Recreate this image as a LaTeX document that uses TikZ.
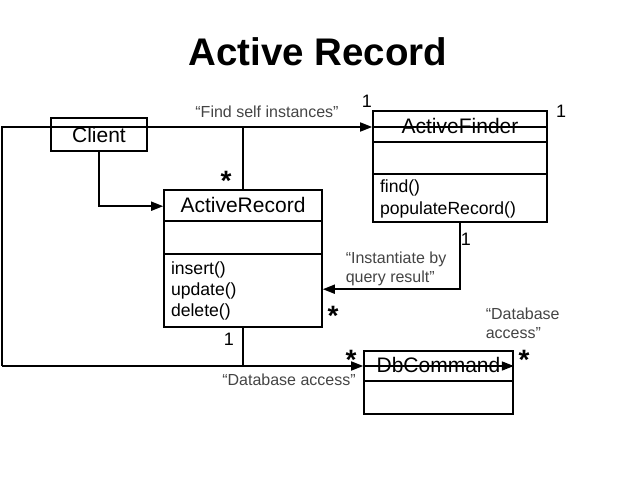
\documentclass[tikz,border=0pt]{standalone}
\usepackage{fontspec}
\setmainfont{Liberation Sans}
\usetikzlibrary{arrows.meta}
\definecolor{labgray}{RGB}{68,68,68}
\begin{document}
\begin{tikzpicture}[x=1pt,y=-1pt,line width=1.6pt,
  cls/.style={draw,rectangle,inner sep=0pt,line width=1.6pt},
  nm/.style={font=\fontsize{21}{25}\selectfont,inner sep=0pt},
  meth/.style={font=\fontsize{17.6}{21}\selectfont,inner sep=0pt,anchor=west},
  lbl/.style={font=\fontsize{16}{19.5}\selectfont,text=labgray,inner sep=0pt,align=left},
  mult/.style={font=\fontsize{18}{20}\selectfont,inner sep=0pt},
  star/.style={font=\bfseries\fontsize{28}{28}\selectfont,inner sep=0pt},
  arr/.style={-{Triangle[length=12pt,width=9pt]}}]
\useasboundingbox (0,0) rectangle (640,480);
\node[font=\bfseries\fontsize{38.5}{42}\selectfont,inner sep=0pt] (title) at (318,52) {Active Record};

% classes
\node[cls,minimum width=96pt,minimum height=33pt] (client) at (99,134.5) {};
\node[nm] (clientname) at (client.center) {Client};

\node[cls,minimum width=174pt,minimum height=111pt] (af) at (460,166.5) {};
\draw ([yshift=-32pt]af.north west) -- ([yshift=-32pt]af.north east);
\draw ([yshift=-64pt]af.north west) -- ([yshift=-64pt]af.north east);
\node[nm] (afname) at ([yshift=-16pt]af.north) {ActiveFinder};
\node[meth] (afm1) at ([xshift=7pt,yshift=-78pt]af.north west) {find()};
\node[meth] (afm2) at ([xshift=7pt,yshift=-100pt]af.north west) {populateRecord()};

\node[cls,minimum width=158pt,minimum height=137pt] (ar) at (243,258.5) {};
\draw ([yshift=-32pt]ar.north west) -- ([yshift=-32pt]ar.north east);
\draw ([yshift=-65pt]ar.north west) -- ([yshift=-65pt]ar.north east);
\node[nm] (arname) at ([yshift=-16pt]ar.north) {ActiveRecord};
\node[meth] (arm1) at ([xshift=7pt,yshift=-81pt]ar.north west) {insert()};
\node[meth] (arm2) at ([xshift=7pt,yshift=-102pt]ar.north west) {update()};
\node[meth] (arm3) at ([xshift=7pt,yshift=-123pt]ar.north west) {delete()};

\node[cls,minimum width=149pt,minimum height=63pt] (db) at (438.5,382.5) {};
\draw ([yshift=-31pt]db.north west) -- ([yshift=-31pt]db.north east);
\node[nm] (dbname) at ([yshift=-15pt]db.north) {DbCommand};

% connectors
\coordinate (lt) at (2,127);
\coordinate (lb) at (2,366);
\draw[arr] (lb) -- (lt) -- (af.west |- lt);
\draw (af.west |- lt) -- (af.east |- lt);
\draw[arr] (lb) -- (db.west |- lb);
\draw[arr] (db.west |- lb) -- (db.east |- lb);
\draw (ar.north) -- (ar.north |- lt);
\draw (ar.south) -- (ar.south |- lb);
\draw[arr] (client.south) |- ([yshift=-17pt]ar.north west);
\draw[arr] (af.south) |- ([yshift=-100pt]ar.north east);

% labels
\node[lbl] (l1) at (267,112) {“Find self instances”};
\node[lbl,anchor=west] (l2) at (345,269) {“Instantiate by\\query result”};
\node[lbl] (l3) at (289,380) {“Database access”};
\node[lbl,anchor=west] (l4) at (485,323.5) {“Database\\access”};

\node[mult] (m1) at (367,101) {1};
\node[mult] (m2) at (561,111) {1};
\node[mult] (m3) at (466,239) {1};
\node[mult] (m4) at (229,339) {1};
\node[star] (s1) at (226,181) {*};
\node[star] (s2) at (333,316) {*};
\node[star] (s3) at (351,360) {*};
\node[star] (s4) at (524,360) {*};
\end{tikzpicture}
\end{document}
